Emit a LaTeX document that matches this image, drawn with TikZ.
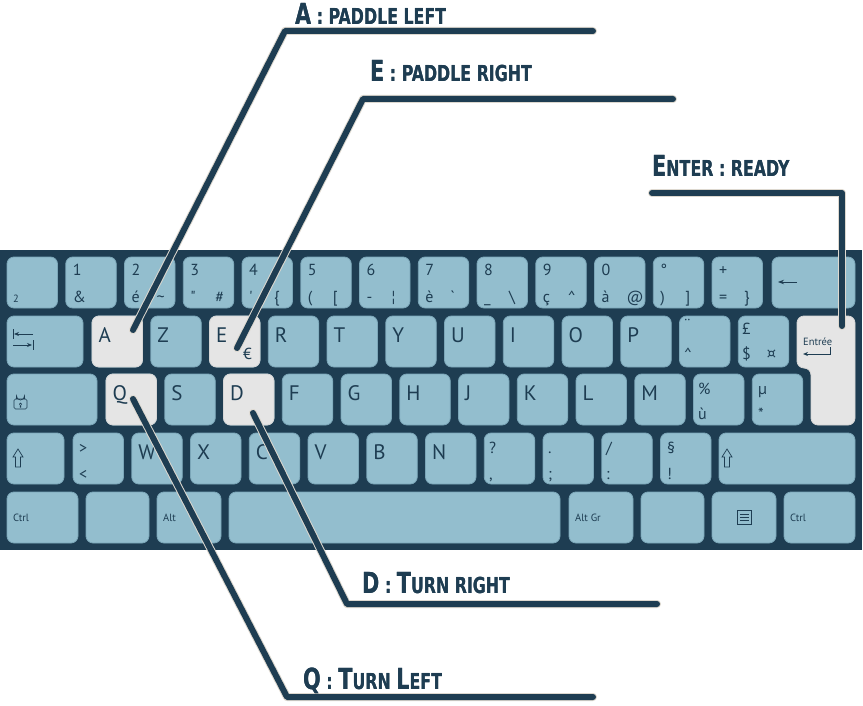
\documentclass[tikz,border=0pt]{standalone}
\usepackage{fontspec}
\usepackage{graphicx}
\usepackage{pdfrender}
\usetikzlibrary{arrows.meta}

\newfontfamily\keyfont{PT Sans}
\newfontfamily\calloutfont{DejaVu Sans Condensed}

\definecolor{kbnavy}{HTML}{1E3D52}
\definecolor{keyblue}{HTML}{93BECE}
\definecolor{keyedge}{HTML}{7BA6B8}
\definecolor{keyhl}{HTML}{E5E5E5}
\definecolor{halo}{HTML}{DDD8CF}

% big first letter, then small capitals
\newcommand{\calloutbody}[2]{\calloutfont\bfseries{\fontsize{29}{29}\selectfont #1}{\fontsize{22}{22}\selectfont #2}}
\newcommand{\calloutlbl}[2]{\scalebox{0.8}[1]{\rlap{\textpdfrender{TextRenderingMode=Stroke, LineWidth=4pt, LineJoin=1, StrokeColor=halo}{\calloutbody{#1}{#2}}}\calloutbody{#1}{#2}}}

\tikzset{
  key/.style={fill=keyblue, draw=keyedge, line width=0.8pt, rounded corners=7pt},
  hlkey/.style={key, fill=keyhl, draw=keyhl!85!gray},
  keytext/.style={inner sep=0pt, anchor=base west, text=kbnavy, font=\keyfont\fontsize{21}{21}\selectfont},
  subtext/.style={keytext, font=\keyfont\fontsize{16}{16}\selectfont},
  smalltext/.style={keytext, font=\keyfont\fontsize{10.5}{11}\selectfont},
  icon/.style={draw=kbnavy, line width=0.9pt},
  callout/.style={draw=kbnavy, line width=6pt, line cap=round, line join=round,
    preaction={draw=halo, line width=8pt, line cap=round, line join=round}},
  calloutlabel/.style={inner sep=0pt, anchor=base west, text=kbnavy}
}

\begin{document}
\begin{tikzpicture}[x=1pt, y=-1pt]
\useasboundingbox (0,0) rectangle (863,706);
\fill[white] (0,0) rectangle (863,706);

% keyboard body
\fill[kbnavy] (0,250) rectangle (862,550);

% row 1
\foreach \i in {0,...,12}
  \draw[key] ({7+58.75*\i},257) rectangle +(50.5,51);
\draw[key] (772,257) rectangle (855,308);
% row 2
\draw[key] (7,316) rectangle (83,367);
\foreach \i in {0,...,11}
  \draw[key] ({92+58.75*\i},316) rectangle +(50.5,51);
\draw[hlkey] (92,316) rectangle +(50.5,51);
\draw[hlkey] (209.5,316) rectangle +(50.5,51);
\draw[hlkey] (797,316) -- (855,316) -- (855,425) -- (811,425) -- (811,368) -- (797,368) -- cycle;
% row 3
\draw[key] (7,374) rectangle (97,425);
\foreach \i in {0,...,11}
  \draw[key] ({106+58.75*\i},374) rectangle +(50.5,51);
\draw[hlkey] (106,374) rectangle +(50.5,51);
\draw[hlkey] (223.5,374) rectangle +(50.5,51);
% row 4
\draw[key] (7,433) rectangle (64,484);
\foreach \i in {0,...,10}
  \draw[key] ({73+58.75*\i},433) rectangle +(50.5,51);
\draw[key] (719,433) rectangle (855,484);
% row 5
\foreach \a/\b in {7/78, 86/149, 157/221, 229/560, 569/633, 641/704, 712/776, 784/855}
  \draw[key] (\a,492) rectangle (\b,543);

% number row labels
\node[smalltext] (sq) at (13,302) {2};
\foreach \i/\ka/\kb/\kc in {1/1/\&/{}, 2/2/é/\textasciitilde, 3/3/"/\#, 4/4/'/\{,
    5/5/{(}/{[}, 6/6/-/¦, 7/7/è/`, 8/8/\_/\textbackslash, 9/9/ç/\textasciicircum,
    10/0/à/@, 11/°/{)}/{]}, 12/+/=/\}} {
  \node[subtext] (top\i) at ({7+58.75*\i+7},276) {\ka};
  \node[subtext] (bl\i) at ({7+58.75*\i+7},302) {\kb};
  \node[subtext] (br\i) at ({7+58.75*\i+32},302) {\kc};
}

% letters
\foreach \l [count=\n from 0] in {A,Z,E,R,T,Y,U,I,O,P}
  \node[keytext] (k\l) at ({92+58.75*\n+6.5},342) {\l};
\foreach \l [count=\n from 0] in {Q,S,D,F,G,H,J,K,L,M}
  \node[keytext] (k\l) at ({106+58.75*\n+6.5},400) {\l};
\foreach \l [count=\n from 1] in {W,X,C,V,B,N}
  \node[keytext] (k\l) at ({73+58.75*\n+6.5},459) {\l};
\node[subtext] (euro) at (243,359) {€};

% other two-symbol keys
\node[subtext] (trema) at (684,330) {¨};
\node[subtext] (circ) at (684,359) {\textasciicircum};
\node[subtext] (pound) at (742,334) {£};
\node[subtext] (dollar) at (742,359) {\$};
\node[subtext] (curr) at (767,359) {¤};
\node[subtext] (pct) at (698,394) {\%};
\node[subtext] (ugrave) at (698,419) {ù};
\node[subtext] (micro) at (758,394) {µ};
\node[subtext] (star) at (758,419) {*};
\node[subtext] (gt) at (79,453) {>};
\node[subtext] (lt) at (79,479) {<};
\node[subtext] (quest) at (489,453) {?};
\node[subtext] (comma) at (489,479) {,};
\node[subtext] (dot) at (548,453) {.};
\node[subtext] (semi) at (548,479) {;};
\node[subtext] (slash) at (606,453) {/};
\node[subtext] (colon) at (606,479) {:};
\node[subtext] (sect) at (667,453) {§};
\node[subtext] (excl) at (667,479) {!};

% modifier keys
\node[smalltext] (ctrlL) at (13,521) {Ctrl};
\node[smalltext] (alt) at (163,521) {Alt};
\node[smalltext] (altgr) at (575,521) {Alt Gr};
\node[smalltext] (ctrlR) at (790,521) {Ctrl};
\node[smalltext] (entree) at (803,345) {Entrée};

% icons
\draw[icon, -{Stealth[length=5pt,width=4pt]}] (33,334) -- (14,334);
\draw[icon] (13,329) -- (13,339);
\draw[icon, -{Stealth[length=5pt,width=4pt]}] (13,345) -- (32,345);
\draw[icon] (33,340) -- (33,350);
\draw[icon, -{Stealth[length=6pt,width=4.5pt]}] (797,282) -- (778,282);
\draw[icon, -{Stealth[length=5pt,width=4pt]}] (830,347) -- (830,354) -- (803,354);
\draw[icon, line width=0.7pt, rounded corners=1.5pt] (14,399) rectangle (27,409);
\draw[icon, line width=0.7pt] (16.5,399) -- (16.5,396) arc[start angle=180, end angle=0, radius=4] -- (24.5,399);
\fill[kbnavy] (20.5,404) circle (1.5) (19.8,404) rectangle (21.2,407.5);
\draw[icon, line width=0.7pt] (18,449) -- (23,457) -- (20.5,457) -- (20.5,467) -- (15.5,467) -- (15.5,457) -- (13,457) -- cycle;
\draw[icon, line width=0.7pt] (727,449) -- (732,457) -- (729.5,457) -- (729.5,467) -- (724.5,467) -- (724.5,457) -- (722,457) -- cycle;
\draw[icon, line width=0.7pt] (737.5,510.5) rectangle (751,524);
\foreach \yy in {514,517,520}
  \draw[icon, line width=0.7pt] (740,\yy) -- (748.5,\yy);

% callouts
\coordinate (tipA) at (133,330);
\coordinate (bendA) at (285,31);
\coordinate (endA) at (593,31);
\coordinate (tipE) at (237,348);
\coordinate (bendE) at (363,99);
\coordinate (endE) at (673,99);
\coordinate (startEnter) at (652,193);
\coordinate (bendEnter) at (842,193);
\coordinate (tipEnter) at (842,326);
\coordinate (tipQ) at (133,399);
\coordinate (bendQ) at (287,697);
\coordinate (endQ) at (593,697);
\coordinate (tipD) at (253,413);
\coordinate (bendD) at (347,604);
\coordinate (endD) at (657,604);

\draw[callout] (tipA) -- (bendA) -- (endA);
\draw[callout] (tipE) -- (bendE) -- (endE);
\draw[callout] (startEnter) -- (bendEnter) -- (tipEnter);
\draw[callout] (tipQ) -- (bendQ) -- (endQ);
\draw[callout] (tipD) -- (bendD) -- (endD);

\node[calloutlabel] (lblA) at (295,25) {\calloutlbl{A}{ : PADDLE LEFT}};
\node[calloutlabel] (lblE) at (370,82) {\calloutlbl{E}{ : PADDLE RIGHT}};
\node[calloutlabel] (lblEnter) at (652,177) {\calloutlbl{E}{NTER : READY}};
\node[calloutlabel] (lblD) at (362,593) {\calloutlbl{D}{ : }\calloutlbl{T}{URN RIGHT}};
\node[calloutlabel] (lblQ) at (303,689) {\calloutlbl{Q}{ : }\calloutlbl{T}{URN }\calloutlbl{L}{EFT}};
\end{tikzpicture}
\end{document}
